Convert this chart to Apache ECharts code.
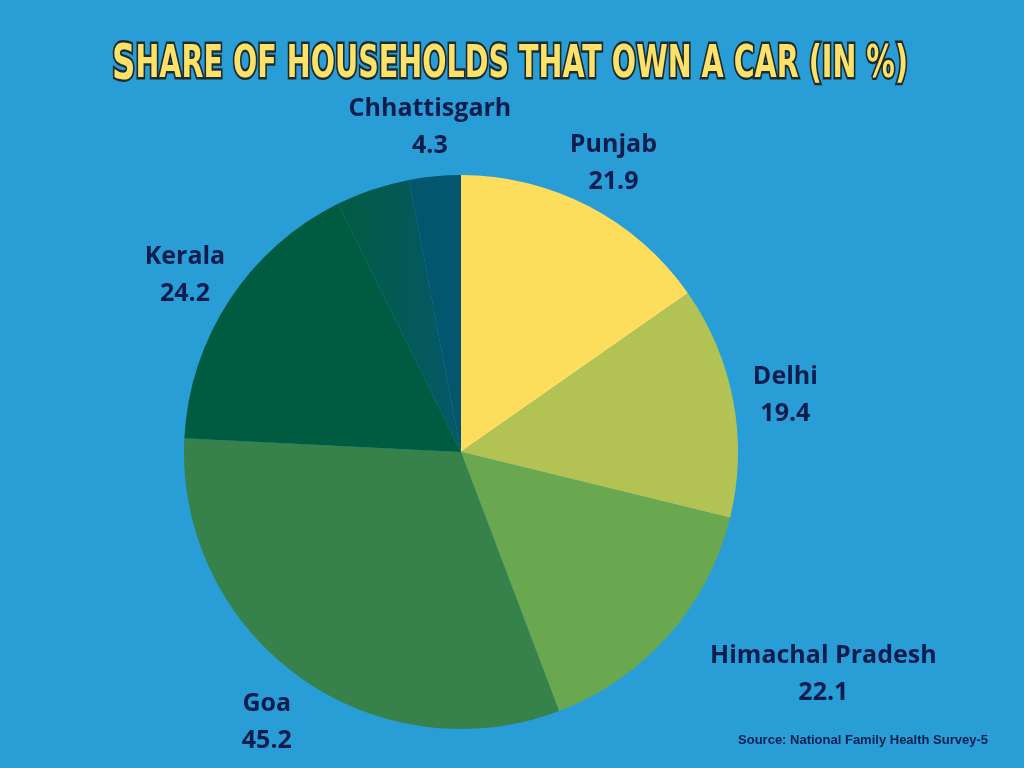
<!DOCTYPE html>
<html>
<head>
<meta charset="utf-8">
<style>
  html, body { margin: 0; padding: 0; background: #299ed6; }
  #chart { width: 1024px; height: 768px; }
</style>
<script src="https://cdn.jsdelivr.net/npm/echarts@6/dist/echarts.min.js"></script>
</head>
<body>
<div id="chart"></div>
<script>
// Data
const states = ['Punjab', 'Delhi', 'Himachal Pradesh', 'Goa', 'Kerala', '', 'Chhattisgarh'];
const values = [21.9, 19.4, 22.1, 45.2, 24.2, 6.2, 4.3];   // '' = unlabeled sliver (estimated)
const colors = ['#fddd5c', '#b3c353', '#6aa84f', '#37814a', '#005c40', null, '#03566e'];

const titleFirst = 'S';
const titleRest = 'HARE OF HOUSEHOLDS THAT OWN A CAR (IN %)';
const sourceText = 'Source: National Family Health Survey-5';

const chart = echarts.init(document.getElementById('chart'));

// condensed title: measure the text and squeeze it horizontally to the reference width
const titleFamily = '"DejaVu Sans"';
const bigSize = 50, smallSize = 44;
const cv = document.createElement('canvas').getContext('2d');
cv.font = 'bold ' + bigSize + 'px ' + titleFamily;
let w = cv.measureText(titleFirst).width;
cv.font = 'bold ' + smallSize + 'px ' + titleFamily;
w += cv.measureText(titleRest).width;
const titleScale = 796 / w;

const data = states.map((name, i) => {
  const item = { name: name, value: values[i] };
  if (colors[i]) {
    item.itemStyle = { color: colors[i] };
  } else {
    item.itemStyle = {
      color: new echarts.graphic.LinearGradient(0, 0, 1, 0, [
        { offset: 0, color: '#025b42' },
        { offset: 1, color: '#065869' }
      ])
    };
  }
  if (!name) {
    item.label = { show: false };
    item.labelLine = { show: false };
  }
  return item;
});

chart.setOption({
  backgroundColor: '#299ed6',
  title: [{
    text: sourceText,
    right: 31,
    bottom: 16,
    textStyle: {
      fontFamily: 'Liberation Sans',
      fontWeight: 'bold',
      fontSize: 13,
      color: '#0d1f4e'
    }
  }],
  graphic: [{
    type: 'text',
    x: 510,
    y: 66,
    scaleX: titleScale,
    style: {
      text: '{big|' + titleFirst + '}{small|' + titleRest + '}',
      align: 'center',
      verticalAlign: 'middle',
      rich: {
        big: {
          fontFamily: titleFamily,
          fontWeight: 'bold',
          fontSize: bigSize,
          fill: '#fde26a',
          stroke: '#1d2a30',
          lineWidth: 5
        },
        small: {
          fontFamily: titleFamily,
          fontWeight: 'bold',
          fontSize: smallSize,
          fill: '#fde26a',
          stroke: '#1d2a30',
          lineWidth: 5
        }
      }
    }
  }],
  series: [{
    type: 'pie',
    center: [461, 452],
    radius: 277,
    startAngle: 90,
    clockwise: true,
    avoidLabelOverlap: false,
    animation: false,
    label: {
      show: true,
      position: 'outside',
      formatter: '{b}\n{c}',
      fontFamily: 'Open Sans',
      fontWeight: 'bold',
      fontSize: 25,
      lineHeight: 37,
      color: '#0f1d4e'
    },
    labelLine: {
      show: true,
      length: 53,
      length2: 0,
      lineStyle: { opacity: 0 }
    },
    labelLayout: function (params) {
      const p = params.labelLinePoints;
      if (!p) return {};
      const end = p[p.length - 1];
      const shift = params.dataIndex === 2 ? params.labelRect.width / 2 + 2 : 0;
      return {
        x: end[0] + shift,
        y: end[1] + 4,
        align: 'center',
        verticalAlign: 'middle'
      };
    },
    data: data
  }]
});
</script>
</body>
</html>
